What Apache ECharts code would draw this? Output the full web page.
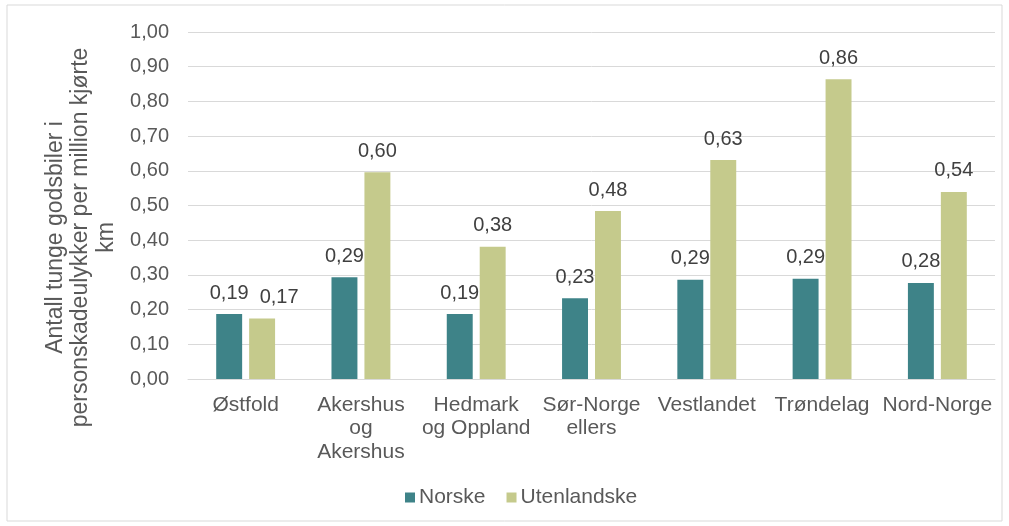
<!DOCTYPE html>
<html>
<head>
<meta charset="utf-8">
<script src="https://cdn.jsdelivr.net/npm/echarts@6/dist/echarts.min.js"></script>
<style>
    html, body { margin: 0; padding: 0; background: #fff; }
    #chart { width: 1009px; height: 526px; }
</style>
</head>
<body>
<div id="chart"></div>
<script>
    // kategorier
    var regions = ['Østfold', 'Akershus\nog\nAkershus', 'Hedmark\nog Oppland', 'Sør-Norge\nellers', 'Vestlandet', 'Trøndelag', 'Nord-Norge']
    // ulykker per million km
    var norske = [0.187, 0.293, 0.187, 0.233, 0.286, 0.289, 0.277]
    var utenlandske = [0.174, 0.596, 0.381, 0.484, 0.631, 0.864, 0.539]

    var textColor = '#595959'
    var chart = echarts.init(document.getElementById('chart'))

    function fmt (v) {
        return v.toFixed(2).replace('.', ',')
    }

    var labelStyle = {
        show: true,
        position: 'top',
        distance: 11,
        color: '#404040',
        fontSize: 20,
        formatter: function (p) { return fmt(p.value) }
    }

    // Østfold-etiketten er flyttet til høyre for å ikke overlappe
    var utenData = utenlandske.map(function (v, i) {
        return i === 0 ? { value: v, label: { offset: [17, 0] } } : v
    })

    chart.setOption({
        animation: false,
        textStyle: { fontFamily: 'Liberation Sans, Arial, sans-serif' },
        graphic: [{
            type: 'rect',
            shape: { x: 7, y: 5, width: 995, height: 516 },
            style: { fill: 'none', stroke: '#d9d9d9', lineWidth: 1 }
        }],
        grid: { left: 188, right: 14, top: 32, bottom: 147, outerBoundsMode: 'none', containLabel: false },
        legend: {
            bottom: 13,
            left: 400,
            itemWidth: 10,
            itemHeight: 10,
            itemGap: 21,
            icon: 'rect',
            textStyle: { color: textColor, fontSize: 21, padding: [0, 0, 0, -1] },
            data: ['Norske', 'Utenlandske']
        },
        xAxis: {
            type: 'category',
            data: regions,
            axisTick: { show: false },
            axisLine: { lineStyle: { color: '#d9d9d9' } },
            axisLabel: { color: textColor, fontSize: 21, lineHeight: 23.5, margin: 14, interval: 0 }
        },
        yAxis: {
            type: 'value',
            min: 0,
            max: 1,
            interval: 0.1,
            name: 'Antall tunge godsbiler i\npersonskadeulykker per million kjørte\nkm',
            nameLocation: 'middle',
            nameGap: 69,
            nameTextStyle: { color: textColor, fontSize: 23, lineHeight: 25.5, padding: [0, 64, 0, 0] },
            axisLine: { show: false },
            axisTick: { show: false },
            axisLabel: { color: textColor, fontSize: 20, margin: 19, formatter: fmt },
            splitLine: { lineStyle: { color: '#d9d9d9' } }
        },
        series: [
            {
                name: 'Norske',
                type: 'bar',
                data: norske,
                barWidth: '22.5%',
                barGap: '27%',
                itemStyle: { color: '#3e8388' },
                label: labelStyle
            },
            {
                name: 'Utenlandske',
                type: 'bar',
                data: utenData,
                barWidth: '22.5%',
                itemStyle: { color: '#c5ca8c' },
                label: labelStyle
            }
        ]
    })
</script>
</body>
</html>
